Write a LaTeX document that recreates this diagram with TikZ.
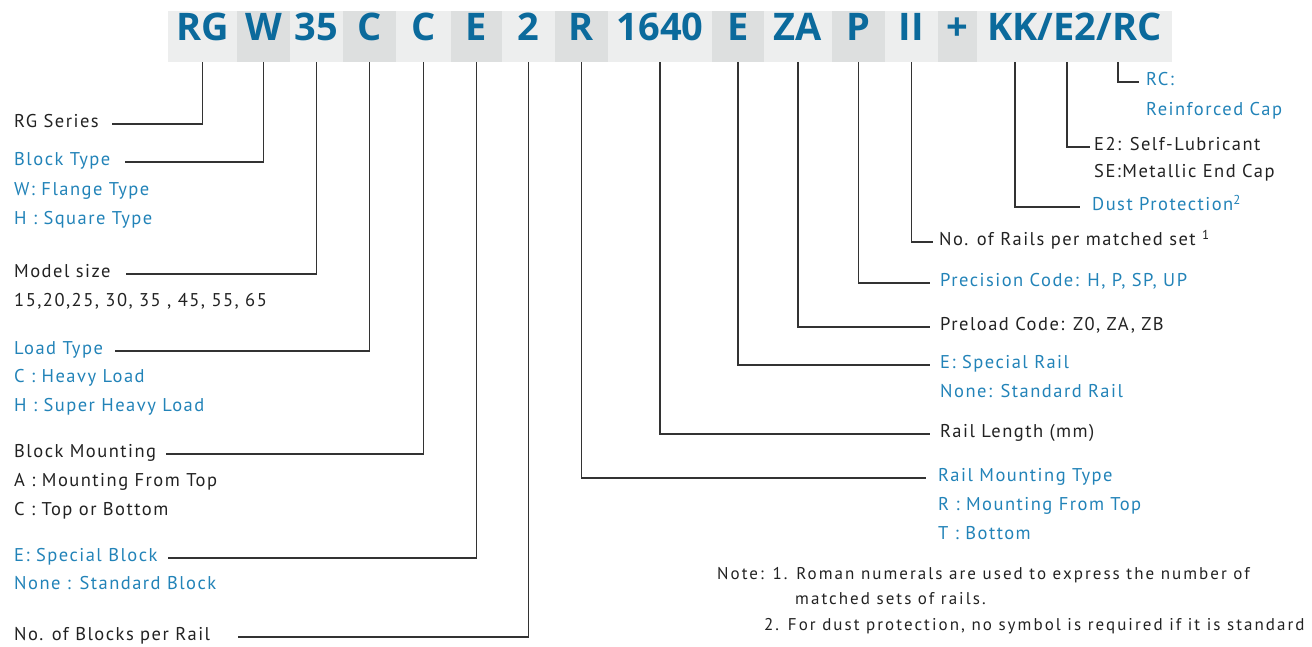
\documentclass[tikz,border=0pt]{standalone}
\usepackage{fontspec}
\setmainfont{PT Sans}
\newfontfamily\hdrfont{Open Sans}
\newfontfamily\labfont[LetterSpace=8]{PT Sans}
\newfontfamily\notefont[LetterSpace=12]{PT Sans}
\usetikzlibrary{calc}
\definecolor{hdrblue}{HTML}{0B6A9C}
\definecolor{labblue}{HTML}{2283B8}
\definecolor{bandA}{HTML}{EDEEEE}
\definecolor{bandB}{HTML}{DDDFDF}
\definecolor{linecol}{HTML}{333333}
\definecolor{labblack}{HTML}{222222}
\begin{document}
\begin{tikzpicture}[x=1pt,y=-1pt,
 hbox/.style={inner sep=0pt, minimum height=51pt, font=\hdrfont\bfseries\fontsize{38}{38}\selectfont, text=hdrblue, text height=0.714em, text depth=0pt},
 hA/.style={hbox, fill=bandA},
 hB/.style={hbox, fill=bandB},
 lab/.style={inner sep=0pt, anchor=west, font=\labfont\fontsize{18.5}{18.5}\selectfont, text height=0.7em, text depth=0pt},
 blab/.style={lab, text=labblue},
 klab/.style={lab, text=labblack},
 note/.style={inner sep=0pt, anchor=west, font=\notefont\fontsize{17}{17}\selectfont, text height=0.7em, text depth=0pt, text=labblack},
 conn/.style={draw=linecol, line width=1.7pt}
]
\useasboundingbox (0,0) rectangle (1312,646);
% header band
\node[hA, minimum width=69pt]  (h1)  at (202.5,36.5) {RG};
\node[hB, minimum width=53pt]  (h2)  at (263.5,36.5) {W};
\node[hA, minimum width=53pt]  (h3)  at (316.5,36.5) {35};
\node[hB, minimum width=53pt]  (h4)  at (369.5,36.5) {C};
\node[hA, minimum width=55pt]  (h5)  at (423.5,36.5) {C};
\node[hB, minimum width=51pt]  (h6)  at (476.5,36.5) {E};
\node[hA, minimum width=53pt]  (h7)  at (528.5,36.5) {2};
\node[hB, minimum width=53pt]  (h8)  at (581.5,36.5) {R};
\node[hA, minimum width=104pt] (h9)  at (660,36.5) {1640};
\node[hB, minimum width=52pt]  (h10) at (738,36.5) {E};
\node[hA, minimum width=68pt]  (h11) at (798,36.5) {ZA};
\node[hB, minimum width=53pt]  (h12) at (858.5,36.5) {P};
\node[hA, minimum width=53pt]  (h13) at (911.5,36.5) {II};
\node[hB, minimum width=39pt]  (h14) at (957.5,36.5) {+};
\node[hA, minimum width=195pt] (h15) at (1074.5,36.5) {KK/E2/RC};
\coordinate (tKK) at (1015,62);
\coordinate (tE2) at (1067,62);
\coordinate (tRC) at (1118,62);

% left labels
\node[klab] (lRG) at (14,124) {RG Series};
\node[blab] (lBT) at (14,162) {Block Type};
\node[blab] (lBT2) at (14,192) {W: Flange Type};
\node[blab] (lBT3) at (14,221) {H : Square Type};
\node[klab] (lMS) at (14,274) {Model size};
\node[klab] (lMS2) at (14,303) {15,20,25, 30, 35 , 45, 55, 65};
\node[blab] (lLT) at (14,351) {Load Type};
\node[blab] (lLT2) at (14,379) {C : Heavy Load};
\node[blab] (lLT3) at (14,408) {H : Super Heavy Load};
\node[klab] (lBM) at (14,454) {Block Mounting};
\node[klab] (lBM2) at (14,483) {A : Mounting From Top};
\node[klab] (lBM3) at (14,512) {C : Top or Bottom};
\node[blab] (lSB) at (14,558) {E: Special Block};
\node[blab] (lSB2) at (14,586) {None : Standard Block};
\node[klab] (lNB) at (14,637) {No. of Blocks per Rail};

% right labels
\node[blab] (rRC) at (1146,82) {RC:};
\node[blab] (rRC2) at (1146,112) {Reinforced Cap};
\node[klab] (rE2) at (1094,147) {E2: Self-Lubricant};
\node[klab] (rE22) at (1094,174) {SE:Metallic End Cap};
\node[blab] (rDP) at (1092,207) {Dust Protection\textsuperscript{2}};
\node[klab] (rNR) at (939,242) {No. of Rails per matched set \textsuperscript{1}};
\node[blab] (rPC) at (940,283) {Precision Code: H, P, SP, UP};
\node[klab] (rPL) at (940,327) {Preload Code: Z0, ZA, ZB};
\node[blab] (rSR) at (940,365) {E: Special Rail};
\node[blab] (rSR2) at (940,394) {None: Standard Rail};
\node[klab] (rRL) at (940,434) {Rail Length (mm)};
\node[blab] (rRM) at (938,478) {Rail Mounting Type};
\node[blab] (rRM2) at (938,507) {R : Mounting From Top};
\node[blab] (rRM3) at (938,536) {T : Bottom};

% notes
\node[note] (n1) at (717,576) {Note: 1. Roman numerals are used to express the number of};
\node[note] (n2) at (795,601) {matched sets of rails.};
\node[note] (n3) at (764,627) {2. For dust protection, no symbol is required if it is standard};

% connectors left
\draw[conn] (h1.south) |- ([xshift=13pt]lRG.east);
\draw[conn] (h2.south) |- ([xshift=15pt]lBT.east);
\draw[conn] (h3.south) |- ([xshift=15pt]lMS.east);
\draw[conn] (h4.south) |- ([xshift=12pt]lLT.east);
\draw[conn] (h5.south) |- ([xshift=10pt]lBM.east);
\draw[conn] (h6.south) |- ([xshift=10pt]lSB.east);
\draw[conn] (h7.south) |- ([xshift=28pt]lNB.east);
% connectors right
\draw[conn] (h8.south) |- ([xshift=-12pt]rRM.west);
\draw[conn] (h9.south) |- ([xshift=-10pt]rRL.west);
\draw[conn] (h10.south) |- ([xshift=-10pt]rSR.west);
\draw[conn] (h11.south) |- ([xshift=-10pt]rPL.west);
\draw[conn] (h12.south) |- ([xshift=-10pt]rPC.west);
\draw[conn] (h13.south) |- ([xshift=-6pt]rNR.west);
\draw[conn] (tKK) |- ([xshift=-12pt]rDP.west);
\draw[conn] (tE2) |- ([xshift=-4pt]rE2.west);
\draw[conn] (tRC) |- ([xshift=-7pt]rRC.west);
\end{tikzpicture}
\end{document}
